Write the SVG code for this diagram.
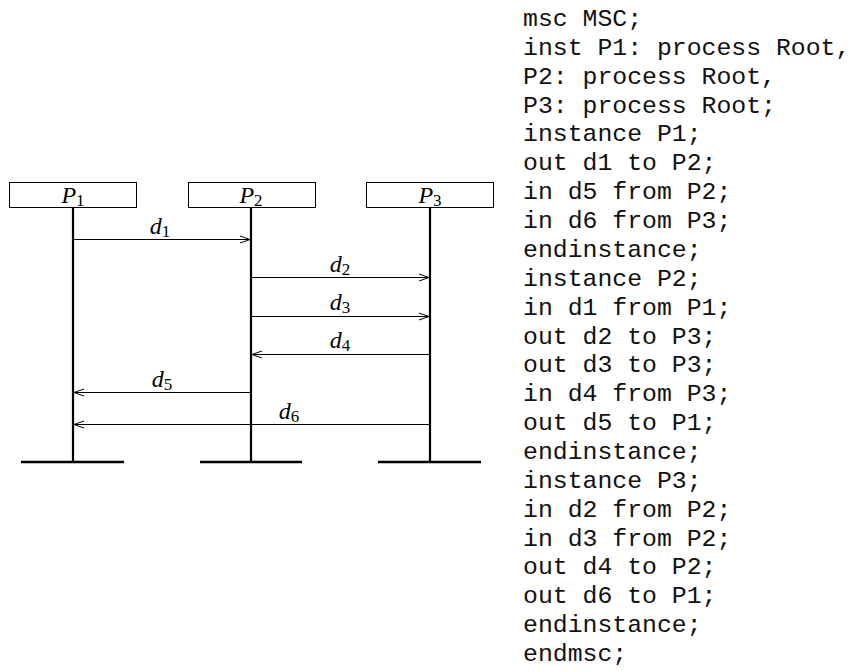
<svg xmlns="http://www.w3.org/2000/svg" width="855" height="671" viewBox="0 0 855 671">
<defs>
<marker id="ah" markerWidth="12" markerHeight="10" refX="11" refY="5" orient="auto" markerUnits="userSpaceOnUse">
<path d="M1,1.5 L11,5 L1,8.5" fill="none" stroke="#000" stroke-width="1"/>
</marker>
<style>
.box{fill:#fff;stroke:#000;stroke-width:1}
.life{stroke:#000;stroke-width:2.2}
.end{stroke:#000;stroke-width:2.5}
.msg{stroke:#000;stroke-width:1;marker-end:url(#ah)}
.m{font-family:"Liberation Serif",serif;font-size:24px;font-style:italic}
.sub{font-style:normal;font-size:17px}
.code{font-family:"Liberation Mono",monospace;font-size:24.8px;white-space:pre;fill:#111}
</style>
</defs>
<rect width="855" height="671" fill="#fff"/>
<g id="P1">
<rect class="box" x="9.5" y="182.5" width="127" height="25"/>
<text class="m" x="73" y="203" text-anchor="middle">P<tspan class="sub" dy="3">1</tspan></text>
<line class="life" x1="73" y1="207" x2="73" y2="462"/>
<line class="end" x1="21" y1="462" x2="124" y2="462"/>
</g>
<g id="P2">
<rect class="box" x="188.5" y="182.5" width="127" height="25"/>
<text class="m" x="251" y="203" text-anchor="middle">P<tspan class="sub" dy="3">2</tspan></text>
<line class="life" x1="251" y1="207" x2="251" y2="462"/>
<line class="end" x1="200" y1="462" x2="302" y2="462"/>
</g>
<g id="P3">
<rect class="box" x="366.5" y="182.5" width="127" height="25"/>
<text class="m" x="430" y="203" text-anchor="middle">P<tspan class="sub" dy="3">3</tspan></text>
<line class="life" x1="430" y1="207" x2="430" y2="462"/>
<line class="end" x1="378" y1="462" x2="481" y2="462"/>
</g>
<g id="connectors">
<line class="msg" x1="74" y1="239.5" x2="250" y2="239.5"/>
<text class="m" x="160" y="234" text-anchor="middle">d<tspan class="sub" dy="3">1</tspan></text>
<line class="msg" x1="252" y1="277.5" x2="429" y2="277.5"/>
<text class="m" x="340" y="272" text-anchor="middle">d<tspan class="sub" dy="3">2</tspan></text>
<line class="msg" x1="252" y1="316.5" x2="429" y2="316.5"/>
<text class="m" x="340" y="310" text-anchor="middle">d<tspan class="sub" dy="3">3</tspan></text>
<line class="msg" x1="429" y1="354.5" x2="252" y2="354.5"/>
<text class="m" x="340" y="348" text-anchor="middle">d<tspan class="sub" dy="3">4</tspan></text>
<line class="msg" x1="250" y1="392.5" x2="74" y2="392.5"/>
<text class="m" x="162" y="387" text-anchor="middle">d<tspan class="sub" dy="3">5</tspan></text>
<line class="msg" x1="429" y1="424.5" x2="74" y2="424.5"/>
<text class="m" x="289" y="419" text-anchor="middle">d<tspan class="sub" dy="3">6</tspan></text>
</g>
<g id="code" class="code">
<text x="523" y="26">msc MSC;</text>
<text x="523" y="54.9">inst P1: process Root,</text>
<text x="523" y="83.7">P2: process Root,</text>
<text x="523" y="112.6">P3: process Root;</text>
<text x="523" y="141.4">instance P1;</text>
<text x="523" y="170.3">out d1 to P2;</text>
<text x="523" y="199.2">in d5 from P2;</text>
<text x="523" y="228">in d6 from P3;</text>
<text x="523" y="256.9">endinstance;</text>
<text x="523" y="285.7">instance P2;</text>
<text x="523" y="314.6">in d1 from P1;</text>
<text x="523" y="343.5">out d2 to P3;</text>
<text x="523" y="372.3">out d3 to P3;</text>
<text x="523" y="401.2">in d4 from P3;</text>
<text x="523" y="430">out d5 to P1;</text>
<text x="523" y="458.9">endinstance;</text>
<text x="523" y="487.8">instance P3;</text>
<text x="523" y="516.6">in d2 from P2;</text>
<text x="523" y="545.5">in d3 from P2;</text>
<text x="523" y="574.3">out d4 to P2;</text>
<text x="523" y="603.2">out d6 to P1;</text>
<text x="523" y="632">endinstance;</text>
<text x="523" y="660.9">endmsc;</text>
</g>
</svg>
